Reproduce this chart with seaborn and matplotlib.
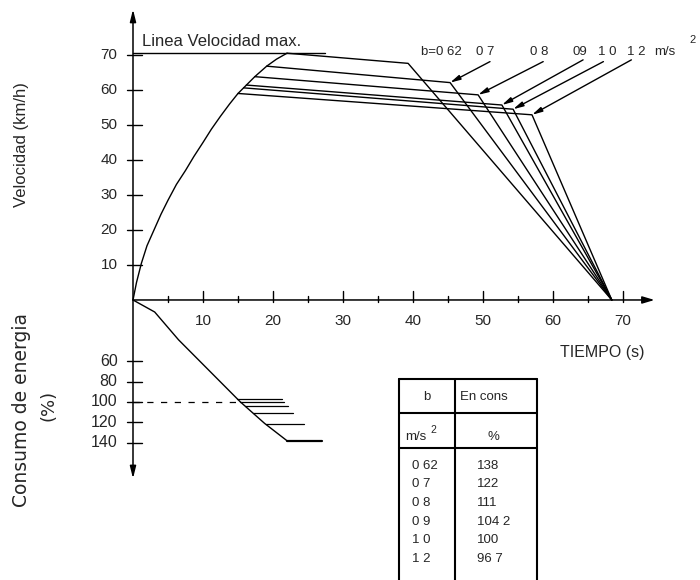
import numpy as np
import pandas as pd
import matplotlib
matplotlib.use("Agg")
import matplotlib.pyplot as plt
import seaborn as sns

# Acceleration run: time (s) and speed (km/h)
t_acc = [0, 0.5, 1.2, 2.0, 3.0, 4.0, 5.0, 6.2, 7.5, 8.7, 10.0, 11.2, 12.5,
         13.8, 15.0, 15.8, 16.2, 17.4, 19.1, 20.5, 22.0]
v_acc = [0, 5.0, 10.5, 15.5, 20.0, 24.5, 28.5, 33.0, 37.0, 41.0, 45.0, 48.8,
         52.5, 56.0, 59.0, 60.6, 61.4, 63.8, 66.8, 68.8, 70.5]

# Maximum line speed
v_max = 70.5
t_max_end = 27.4

# Deceleration rates b (m/s2) and the coasting / braking profile for each one
decel_labels = ["b=0 62", "0 7", "0 8", "09", "1 0", "1 2"]
t_coast_start = [22.0, 19.1, 17.4, 16.2, 15.8, 15.0]
v_coast_start = [70.5, 66.8, 63.8, 61.4, 60.6, 59.0]
t_brake_start = [39.3, 45.3, 49.3, 52.7, 54.3, 57.0]
v_brake_start = [67.6, 62.1, 58.6, 55.7, 54.5, 52.9]
t_stop = 68.4

# Energy consumption (%) for each deceleration rate
table_b = ["0 62", "0 7", "0 8", "0 9", "1 0", "1 2"]
energy_pct = [138, 122, 111, 104.2, 100, 96.7]
energy_text = ["138", "122", "111", "104 2", "100", "96 7"]
t_energy_end = [27.0, 24.4, 22.8, 22.1, 21.6, 21.3]

# Cumulative energy curve during traction
t_energy = [0, 3.1, 6.5, 15.3, 18.8, 22.0]
e_energy = [0, 11.8, 39.0, 99.7, 121.0, 138.0]

# Axis ticks
x_ticks = [10, 20, 30, 40, 50, 60, 70]
v_ticks = [10, 20, 30, 40, 50, 60, 70]
e_ticks = [60, 80, 100, 120, 140]

sns.set_theme(style="white")
plt.rcParams["font.family"] = ["Liberation Sans", "DejaVu Sans"]

E_SCALE = 0.2914  # km/h-units per % of energy on the lower half


def e2v(e):
    return -np.asarray(e, dtype=float) * E_SCALE


fig = plt.figure(figsize=(7, 5.8), dpi=100)
ax = fig.add_axes([0, 0, 1, 1])
ax.set_xlim(-19, 81)
ax.set_ylim(-80, 85.7)
ax.axis("off")

K = "black"
LW = 1.0

# ---- axes with arrows ----
ax.annotate("", xy=(74.5, 0), xytext=(0, 0),
            arrowprops=dict(arrowstyle="-|>,head_length=0.6,head_width=0.18",
                            color=K, lw=1.1, shrinkA=0, shrinkB=0))
ax.annotate("", xy=(0, 83), xytext=(0, -51),
            arrowprops=dict(arrowstyle="<|-|>,head_length=0.6,head_width=0.15",
                            color=K, lw=1.1, shrinkA=0, shrinkB=0))

# x ticks (every 5 s, labelled every 10 s)
for t in range(5, 75, 5):
    top = 2.6 if t % 10 == 0 else 1.0
    ax.plot([t, t], [-0.6, top], color=K, lw=1.0)
for t in x_ticks:
    ax.text(t, -5.9, str(t), ha="center", va="center", fontsize=11)

# speed ticks
for v in v_ticks:
    ax.plot([-0.9, 1.3], [v, v], color=K, lw=1.0)
    ax.text(-2.2, v, str(v), ha="right", va="center", fontsize=11)

# energy ticks
for e in e_ticks:
    y = float(e2v(e))
    ax.plot([-0.9, 1.3], [y, y], color=K, lw=1.0)
    ax.text(-2.2, y, str(e), ha="right", va="center", fontsize=11.5)

# ---- speed profiles ----
acc = pd.DataFrame({"t": t_acc, "v": v_acc})
sns.lineplot(data=acc, x="t", y="v", ax=ax, color=K, lw=LW, sort=False,
             estimator=None)
ax.plot([0, t_max_end], [v_max, v_max], color=K, lw=LW)

for i in range(len(decel_labels)):
    prof = pd.DataFrame({
        "t": [t_coast_start[i], t_brake_start[i], t_stop],
        "v": [v_coast_start[i], v_brake_start[i], 0.0],
    })
    sns.lineplot(data=prof, x="t", y="v", ax=ax, color=K, lw=LW, sort=False,
                 estimator=None)

ax.text(1.3, 73.9, "Linea Velocidad max.", ha="left", va="center",
        fontsize=12)

# deceleration labels with arrows to the braking points
label_x = [44.1, 50.3, 58.0, 63.8, 67.8, 71.9]
arrow_tail = [None, (51.0, 68.1), (58.6, 68.1), (64.3, 68.6),
              (67.2, 68.1), (71.2, 68.6)]
for i, lab in enumerate(decel_labels):
    ax.text(label_x[i], 70.9, lab, ha="center", va="center", fontsize=9.5)
    if arrow_tail[i] is not None:
        ax.annotate("", xy=(t_brake_start[i], v_brake_start[i]),
                    xytext=arrow_tail[i],
                    arrowprops=dict(arrowstyle="-|>,head_length=0.5,head_width=0.12",
                                    color=K, lw=1.0, shrinkA=0, shrinkB=0))
ax.text(76.0, 70.9, "m/s", ha="center", va="center", fontsize=9.5)
ax.text(80.0, 74.3, "2", ha="center", va="center", fontsize=8)

# ---- energy consumption ----
en = pd.DataFrame({"t": t_energy, "v": e2v(e_energy)})
sns.lineplot(data=en, x="t", y="v", ax=ax, color=K, lw=LW, sort=False,
             estimator=None)
for e, t_end in zip(energy_pct, t_energy_end):
    t_start = np.interp(e, e_energy, t_energy)
    lw = 1.6 if e == max(energy_pct) else 0.9
    ax.plot([t_start, t_end], [e2v(e), e2v(e)], color=K, lw=lw)
t100 = np.interp(100, e_energy, t_energy)
ax.plot([0, t100], [e2v(100), e2v(100)], color=K, lw=0.9, dashes=(5, 6))

# ---- axis titles ----
ax.text(-15.9, 44.3, "Velocidad (km/h)", rotation=90, ha="center",
        va="center", fontsize=12)
ax.text(-15.9, -31.4, "Consumo de energia", rotation=90, ha="center",
        va="center", fontsize=13.5, family=["DejaVu Sans"])
ax.text(-12.1, -30.0, "(%)", rotation=90, ha="center", va="center",
        fontsize=13, family=["DejaVu Sans"])
ax.text(67.1, -15.1, "TIEMPO (s)", ha="center", va="center", fontsize=11.5)

# ---- table ----
tl, tm, tr = 38.0, 46.0, 57.7
ttop, th1, th2, tbot = -22.6, -32.3, -42.3, -80.0
for x in (tl, tm, tr):
    ax.plot([x, x], [ttop, tbot], color=K, lw=1.5)
for y in (ttop, th1, th2):
    ax.plot([tl, tr], [y, y], color=K, lw=1.5)
ax.text(42.0, -27.6, "b", ha="center", va="center", fontsize=9.5)
ax.text(46.7, -27.6, "En cons", ha="left", va="center", fontsize=9.5)
ax.text(38.9, -39.1, "m/s", ha="left", va="center", fontsize=9.5)
ax.text(42.9, -37.2, "2", ha="center", va="center", fontsize=7.5)
ax.text(51.5, -39.1, "%", ha="center", va="center", fontsize=9.5)
for i, (b, txt) in enumerate(zip(table_b, energy_text)):
    y = -47.4 - 5.3 * i
    ax.text(39.9, y, b, ha="left", va="center", fontsize=9.5)
    ax.text(49.1, y, txt, ha="left", va="center", fontsize=9.5)

fig.savefig("out.png", dpi=100, facecolor="white")
